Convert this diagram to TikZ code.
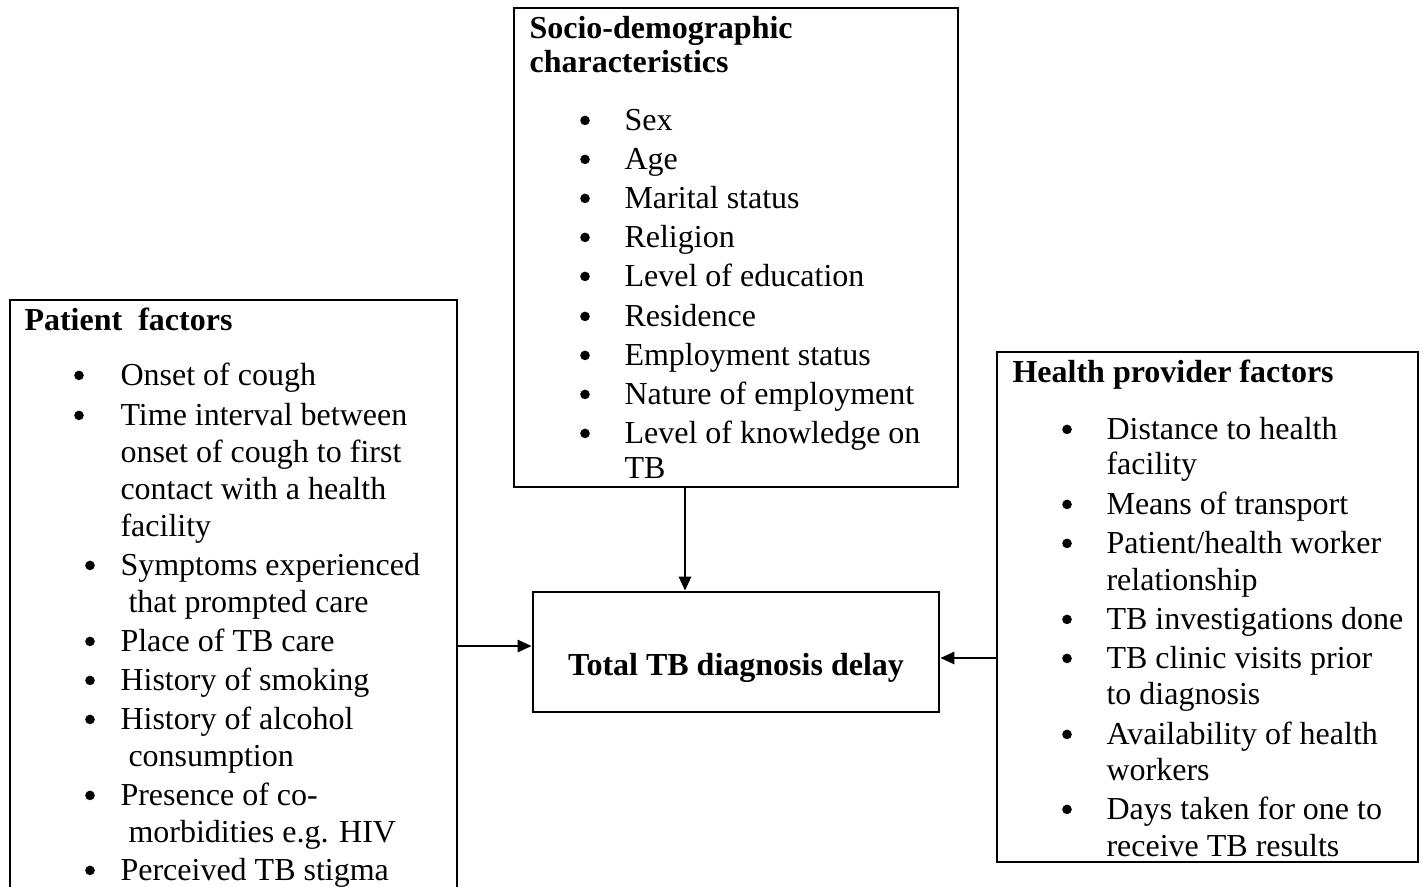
\documentclass[tikz,border=0pt]{standalone}
\usepackage{fontspec}
\setmainfont{Liberation Serif}
\usetikzlibrary{arrows.meta,fit}

\begin{document}
\begin{tikzpicture}[x=0.375pt,y=-0.375pt,
	box/.style={draw,line width=1.1pt,inner sep=0pt},
	arr/.style={line width=0.75pt,-{Triangle[length=5.2pt,width=4.6pt]}},
	txt/.style={anchor=base west,inner sep=0pt,font=\fontsize{12}{14}\selectfont},
	hd/.style={txt,font=\fontsize{12}{14}\selectfont\bfseries},
	bul/.style={circle,fill,inner sep=0pt,minimum size=3.6pt,yshift=3.6pt}]
				\useasboundingbox (0,0) rectangle (1421,886);
				
				% boxes
				\node[box,fit={(514,8) (958,487)}] (socio) {};
				\node[box,fit={(10,300) (457,930)}] (patient) {};
				\node[box,fit={(997,352) (1418,862)}] (health) {};
				\node[box,fit={(533,592) (939,712)}] (delay) {};
				
				% headings
				\node[hd] (sochd1) at (529,38) {Socio-demographic};
				\node[hd] (sochd2) at (529,72) {characteristics};
				\node[hd] (pathd) at (24,330) {Patient\ \ factors};
				\node[hd] (heahd) at (1012,382) {Health provider factors};
				\node[hd,anchor=base] (delayhd) at (736,675) {Total TB diagnosis delay};
				
				% socio-demographic items
				\foreach \yy/\t [count=\i] in {130/Sex, 169/Age, 208/Marital status,
					247/Religion, 286/Level of education, 326/Residence,
					365/Employment status, 404/Nature of employment,
					443/Level of knowledge on, 478/TB}
					\node[txt] (soc\i) at (624,\yy) {\t};
				\foreach \yy [count=\i] in {130,169,208,247,286,326,365,404,443}
					\node[bul] (socb\i) at (585,\yy) {};
				
				% patient items
				\foreach \xx/\yy/\t [count=\i] in {120/385/Onset of cough,
					120/425/Time interval between, 120/462/onset of cough to first,
					120/499/contact with a health, 120/536/facility,
					120/575/Symptoms experienced, 128/612/that prompted care,
					120/651/Place of TB care, 120/690/History of smoking,
					120/729/History of alcohol, 128/766/consumption,
					120/805/Presence of co-, 128/842/morbidities e.g. HIV,
					120/880/Perceived TB stigma}
					\node[txt] (pat\i) at (\xx,\yy) {\t};
				\foreach \xx/\yy [count=\i] in {79/385, 79/425, 90/575, 90/651,
					90/690, 90/729, 90/805, 90/880}
					\node[bul] (patb\i) at (\xx,\yy) {};
				
				% health provider items
				\foreach \yy/\t [count=\i] in {439/Distance to health, 474/facility,
					514/Means of transport, 553/{Patient/health worker},
					590/relationship, 629/TB investigations done,
					668/TB clinic visits prior, 704/to diagnosis,
					744/Availability of health, 780/workers,
					819/Days taken for one to, 856/receive TB results}
					\node[txt] (hea\i) at (1106,\yy) {\t};
				\foreach \yy [count=\i] in {439,514,553,629,668,744,819}
					\node[bul] (heab\i) at (1067,\yy) {};
				
				% arrows
				\draw[arr] (patient.east |- 0,646) -- (delay.west |- 0,646);
				\draw[arr] (socio.south -| 685,0) -- (delay.north -| 685,0);
				\draw[arr] (health.west |- 0,658) -- (delay.east |- 0,658);
\end{tikzpicture}
\end{document}
